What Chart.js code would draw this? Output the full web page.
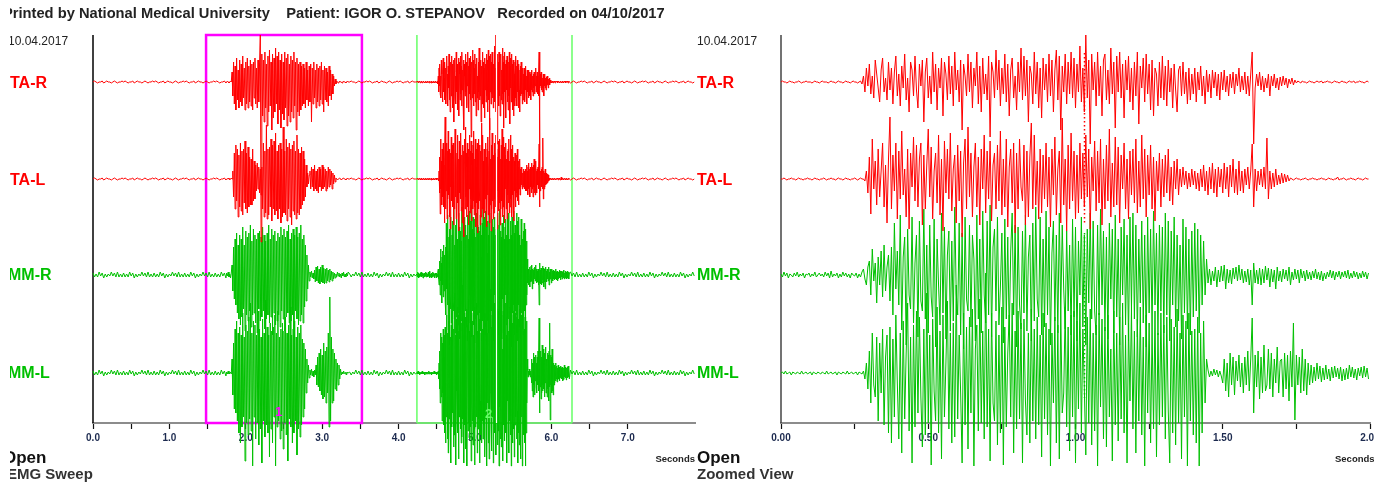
<!DOCTYPE html>
<html>
<head>
<meta charset="utf-8">
<script src="https://cdn.jsdelivr.net/npm/chart.js@4.4.0/dist/chart.umd.min.js"></script>
<style>
  body { margin: 0; background: #fff; width: 1389px; height: 484px; overflow: hidden; position: relative;
         font-family: "Liberation Sans", Arial, sans-serif; }
  .pane { position: absolute; top: 0; height: 484px; overflow: hidden; }
  #paneL { left: 10px; width: 687px; }
  #paneR { left: 697px; width: 677px; }
  .pane canvas { position: absolute; left: 0; top: 0; }
  .t { position: absolute; white-space: nowrap; line-height: 1; }
  .hdrbox { position: absolute; left: 0; top: 7px; width: 687px; height: 16px; overflow: hidden; }
  .hdr { font-weight: bold; font-size: 14.7px; color: #222; }
  .date { font-size: 12px; color: #222; }
  .ch { font-weight: bold; font-size: 16px; }
  .red { color: #ff0000; }
  .grn { color: #00c000; }
  .open { font-weight: bold; font-size: 17px; color: #111; }
  .name { font-weight: bold; font-size: 15px; color: #333; }
  .sec { font-weight: bold; font-size: 9.5px; color: #222; }
</style>
</head>
<body>
<div class="pane" id="paneL">
  <canvas id="sweepChart" width="687" height="484"></canvas>
  <div class="hdrbox"><div class="t hdr" style="left:-7px;top:-1px">Printed by National Medical University &nbsp;&nbsp; Patient: IGOR O. STEPANOV &nbsp;&nbsp;Recorded on 04/10/2017</div></div>
  <div class="t date" style="left:-2px;top:35px">10.04.2017</div>
  <div class="t ch red" style="left:0px;top:75px">TA-R</div>
  <div class="t ch red" style="left:0px;top:172px">TA-L</div>
  <div class="t ch grn" style="left:-2px;top:267px">MM-R</div>
  <div class="t ch grn" style="left:-2px;top:365px">MM-L</div>
  <div class="t" style="left:265px;top:405px;color:#ff00ff;font-weight:bold;font-size:13px">1</div>
  <div class="t" style="left:475px;top:407px;color:#66ff66;font-weight:bold;font-size:13px">2</div>
  <div class="t open" style="left:-7px;top:449px">Open</div>
  <div class="t name" style="left:-3px;top:466px">EMG Sweep</div>
  <div class="t sec" style="right:2px;top:454px">Seconds</div>
</div>
<div class="pane" id="paneR">
  <canvas id="zoomChart" width="677" height="484"></canvas>
  <div class="t date" style="left:0px;top:35px">10.04.2017</div>
  <div class="t ch red" style="left:0px;top:75px">TA-R</div>
  <div class="t ch red" style="left:0px;top:172px">TA-L</div>
  <div class="t ch grn" style="left:0px;top:267px">MM-R</div>
  <div class="t ch grn" style="left:0px;top:365px">MM-L</div>
  <div class="t open" style="left:0px;top:449px">Open</div>
  <div class="t name" style="left:0px;top:466px">Zoomed View</div>
  <div class="t sec" style="left:638px;top:454px">Seconds</div>
</div>
<script>
// channels, top to bottom
const channels = ['TA-R', 'TA-L', 'MM-R', 'MM-L'];
const channelColors = ['#ff0000', '#ff0000', '#00c000', '#00c000'];
const channelOffset = [291, 194, 98, 0];

// axes (seconds)
const sweepMax = 7.88;
const zoomMax = 2.0;

// analysis windows on the sweep (seconds)
const window1 = [1.48, 3.52];
const window2 = [4.24, 6.27];
const cursorTime = 5.27;

// resting noise (sampled every 20 ms)
const restTA = [0, 1, 0, -1, 0, 0, 1, -1, 0, 1, 0, 0, -1, 0, 1, 0, -1, 0, 0, 1];
const restMM = [2, -2, 1, -2, 3, -1, 2, -3, 1, -2, 1, -1, 3, -1, 2, -2, 3, -2, 1, -2];

// first burst, 1.75 s .. 3.34 s, 10 ms samples
const burst1 = {
  'TA-R': [0, 1, 0, -1, 0, 1, 0,
    10, -14, 20, -22, 16, -28, 24, -18, 12, -26, 22, -20, 18, -24, 26, -16, 14, -28, 20, -22,
    24, -26, 16, -20, 22, -24, 18, -28, 20, -16, 24, -22, 14, -26, 22, -20, 18,
    47, -160,
    28, -34, 22, -40, 30, -26, 18, -44, 26, -30, 32, -24, 20, -48, 28, -36, 24, -30, 34, -22,
    26, -42, 30, -28, 22, -46, 28, -32, 20, -38, 30, -26, 24, -44, 28, -34, 18, -40, 26, -30,
    22, -36, 30, -24, 20, -48, 24, -30, 18, -34, 20, -28, 16, -24,
    18, -22, 14, -26, 20, -18, 12, -24, 16, -20, 18, -40, 14, -22, 20, -16, 12, -26, 18, -20,
    14, -24, 16, -18, 20, -22, 12, -30, 16, -18, 14, -20, 10, -24, 16, -14, 12, -18, 8, -12, 6,
    -4, 3, -2, 1, 0, -1, 0, 1, 0, 0, -1, 0, 1, 0, 0, -1, 0, 1, 0],
  'TA-L': [0, 0, 1, 0, -1, 0, 1, 0,
    8, -18, 26, -30, 34, -22, 30, -38, 24, -28, 36, -32, 28, -36, 30, -24, 38, -30, 26, -34, 32, -28, 22, -26,
    20, -26, 30, -22, 18, -20,
    14, -12, 16, -10, 12, -14, 10, -16, 12,
    -30, 36, -38, 28, -34, 54, -40, 30, -36, 32, -28, 40, -42, 34, -30, 38, -36, 46, -32, 28,
    -40, 34, -30, 36, -44, 30, -38, 52, -34, 28, -36, 40, -42, 32, -30, 36, -38, 30, -46, 34,
    -32, 38, -36, 28, -40, 44, -34, 30, -36, 26, -30, 32, -26, 28, -22, 20, -18, 14,
    -8, 6, -5, 4,
    8, -10, 12, -8, 10, -12, 14, -10, 8, -12, 10, -14, 12, -8, 10, -12, 14, -10, 12, -8,
    10, -12, 8, -10, 12, -8, 10, -6, 8, -10, 6, -5, 4, -3,
    1, 0, -1, 0, 0, 1, 0, -1, 0, 0, 1, 0, 0, -1, 0, 1, 0],
  'MM-R': [2, -1, 3, -2, 1, -3, 2,
    10, -16, 28, -24, 36, -30, 42, -38, 30, -44, 40, -50, 36, -42, 48, -34, 30, -56, 44, -40,
    38, -46, 42, -36, 50, -52, 34, -40, 46, -38, 40, -48, 36, -58, 42, -34, 44, -46, 38, -42,
    48, -36, 40, -54, 34, -44, 42, -40, 50, -48, 36, -42, 46, -60, 40, -38, 44, -50, 34, -46,
    42, -40, 38, -52, 48, -36, 40, -44, 46, -56, 38, -42, 44, -38, 50, -48, 36, -46, 42, -40,
    46, -54, 40, -36, 48, -44, 38, -50, 42, -46, 50, -40, 36, -48, 40, -32, 30, -26, 20, -14, 10, -6,
    3, -2, 4, -3, 2, -4,
    5, -7, 8, -6, 9, -8, 6, -9, 8, -7, 10, -8, 7, -9, 6, -8, 7, -6, 5, -7, 6, -5, 4, -6, 3, -4,
    2, -3, 1, -2, 3, -1, 2, -2, 1, -3, 2, -1, 3, -2, 1, -2, 2, -1, 3],
  'MM-L': [1, -1, 2, -1, 0, 1, -1,
    14, -22, 30, -36, 44, -40, 52, -48, 40, -60, 46, -70, 38, -54, 60, -44, 36, -88, 48, -50,
    42, -62, 56, -46, 70, -58, 40, -93, 52, -44, 48, -66, 38, -50, 62, -72, 44, -56, 36, -90,
    54, -48, 40, -64, 73, -52, 46, -60, 38, -84, 50, -56, 42, -70, 46, -44, 58, -93, 40, -54,
    62, -48, 36, -66, 44, -58, 50, -76, 42, -50, 56, -62, 40, -88, 48, -46, 66, -54, 38, -70,
    44, -60, 52, -48, 36, -82, 46, -56, 40, -64, 48, -52, 34, -44, 30, -36, 24, -20, 14, -10, 8, -5,
    3, -2, 4, -3, 2, -4, 3, -2,
    8, -12, 16, -14, 20, -18, 24, -22, 18, -26, 30, -24, 22, -30, 26, -20, 40, -54, 76, -48,
    36, -30, 24, -28, 20, -16, 14, -18, 10, -12, 8, -6, 4,
    -2, 1, -1, 2, 0, -1, 1, -2, 1, 0]
};

// zoomed window, 0 .. 1.995 s (= sweep 4.24 s ..), 5 ms samples, one row per 100 ms
const zoomStep = 0.005;
const zoomed = {
  'TA-R': [
    0, 1, 0, 0, -1, 0, 1, 0, 0, -1, 0, 0, 1, 0, -1, 0, 0, 1, 0, 0,
    0, -1, 0, 1, 0, 0, -1, 0, 1, 0, 0, 0, -1, 0, 1, 0, 0, -1, 0, 1,
    0, 0, -1, 0, 1, 0, 0, -1, 0, 1, 0, 0, -1, 0, 1, -2, 6, -10, 14, -4,
    18, -12, 6, -16, 22, 8, -6, -20, 12, 24, -10, 4, -18, 20, -8, 14, -22, 10, 26, -14,
    8, -24, 16, -6, 28, -18, 4, -30, 20, 12, -14, 26, -8, -26, 18, -4, 22, -40, 10, 24,
    -16, 6, -22, 30, -10, 18, -28, 14, -6, 24, -34, 20, 8, -18, 26, -12, 16, -24, 30, -8,
    12, -20, 22, -48, 18, 6, -14, 28, -10, 20, -26, 14, -4, 30, -22, 16, -30, 24, -12, 8,
    -18, 26, -55, 20, 10, -16, 32, -8, 22, -24, 14, -12, 28, -20, 18, -34, 12, 24, -16, 6,
    -28, 20, -10, 34, -18, 26, -14, 22, -40, 16, 8, -22, 30, -12, 20, -26, 14, -36, 24, -8,
    18, -20, 28, -14, 22, -30, 12, 32, -18, 26, -48, 16, -10, 28, -22, 20, -12, 30, -16, 24,
    -26, 18, -10, 36, -20, 14, -30, 47, -16, 22, -62, 28, -8, 20, -24, 30, -14, 16, -34, 22,
    28, -18, 12, -22, 34, -12, 20, -46, 26, -10, 30, -16, 18, -36, 22, -8, 26, -20, 14, -28,
    20, -14, 30, -42, 16, -6, 24, -20, 28, -12, 18, -28, 22, -34, 14, 8, -24, 20, -16, 26,
    -18, 16, -24, 22, -10, 14, -26, 18, -8, -30, 12, 16, -14, 20, -12, 10, -22, 14, -18, 8,
    -12, 14, -20, 10, -8, 16, -14, 6, -22, 12, -10, 8, -16, 12, -6, 10, -14, 8, -18, 10,
    -8, 12, -10, 6, -14, 8, -6, 10, -12, 8, -4, 14, -10, 6, -8, 10, -12, 6, -14, 8,
    30, -62, -6, 8, -4, 10, -8, 6, -10, 4, -6, 8, -14, 6, -4, 8, -6, 4, -8, 5,
    -4, 6, -3, 4, -6, 3, -2, 4, -3, 2, -1, 1, 0, -1, 1, 0, 0, -1, 0, 1,
    0, 0, -1, 0, 1, 0, 0, 1, -1, 0, 0, 1, 0, 0, -1, 0, 1, 0, 0, -1,
    0, 1, 0, 0, -1, 0, 1, 0, 0, 1, -1, 0, 0, 1, 0, 0, -1, 0, 1, 0],
  'TA-L': [
    0, 0, 1, 0, -1, 0, 0, 1, 0, 0, -1, 0, 1, 0, 0, -1, 0, 0, 1, 0,
    0, -1, 0, 1, 0, 0, -1, 0, 0, 1, 0, -1, 0, 0, 1, 0, 0, -1, 0, 1,
    0, 0, -1, 0, 1, 0, 0, -1, 0, 0, 1, 0, -1, 0, 1, 0, 0, -2, 8, -14,
    22, -35, 40, -10, 18, -26, 30, -18, 8, 36, -28, 14, -44, 20, 62, -30, 24, -12, 36, -40,
    28, -20, 48, -16, 10, -38, 30, -50, 26, -8, 42, -22, 34, -28, 20, 36, -46, 24, -30, 14,
    50, -18, 32, -40, 8, 26, -24, 44, -36, 20, -52, 38, -14, 30, -20, 46, -32, 10, 24, -44,
    34, -22, 28, -58, 16, 40, -30, 52, -18, 26, -38, 12, 36, -28, 22, -46, 30, -10, 44, -34,
    28, -20, 38, -42, 14, 26, -30, 34, -22, 48, -36, 20, -28, 40, -48, 12, 30, -24, 36, -54,
    26, -30, 40, -8, -22, 34, -46, 28, -38, 22, 56, -30, 44, -26, 18, -40, 30, -34, 24, -20,
    36, -28, 22, -48, 30, -16, 42, -36, 10, 28, -44, 61, -26, 20, -52, 34, -30, 46, -22, 28,
    -40, 24, -34, 36, -20, 26, -28, 44, -18, 30, -50, 22, -12, 38, -32, 28, -24, 40, -46, 20,
    -30, 34, -22, 50, -38, 16, -28, 42, -26, 32, -44, 24, -10, 36, -30, 20, -40, 28, -16, 30,
    -24, 40, -34, 18, -28, 44, -20, 30, -38, 24, -16, 34, -30, 22, -42, 18, -12, 26, -28, 20,
    -18, 24, -14, 30, -22, 12, -26, 18, -10, 20, -16, 10, -8, 12, -6, 8, -10, 6, -8, 10,
    -6, 8, -10, 6, -12, 10, -8, 14, -12, 8, -16, 12, -10, 16, -14, 10, -18, 12, -8, 10,
    -14, 16, -10, 12, -18, 14, -8, 20, -14, 10, -16, 18, -12, 8, -14, 10, -6, 12, -10, 8,
    35, -28, 10, -12, 8, -6, 10, -8, 12, -10, 41, -20, 8, -10, 6, -8, 10, -6, 4, -5,
    6, -4, 5, -3, 4, -2, 1, 0, -1, 0, 1, 0, 0, -1, 0, 0, 1, 0, -1, 0,
    0, 1, 0, 0, -1, 0, 0, 1, 0, 0, -1, 0, 1, 0, 0, -1, 0, 0, 2, -1,
    0, 0, 1, 0, -1, 0, 0, 1, 0, 0, -1, 0, 1, 0, 0, -1, 0, 1, 0, 0],
  'MM-R': [
    1, -2, 3, -1, 2, -3, 1, 0, -2, 2, -1, 3, -2, 1, -1, 2, -3, 1, 0, 2,
    -2, 1, -1, 3, -2, 0, 2, -1, 1, -2, 3, -1, 2, -3, 4, -2, 1, -1, 2, -3,
    1, -2, 3, -1, 2, -2, 1, -3, 2, 0, -1, 2, -3, 1, -2, 3, 6, -4, -10, 8,
    14, -20, 26, -6, 12, -28, 18, -10, 24, -22, 30, -16, 8, 20, -26, 28, -40, 52, -14, 24,
    -30, 60, -55, 18, 38, -70, 46, -20, -34, 58, -48, 12, 40, -62, 54, -26, -36, 66, -44, 30,
    -58, 50, -22, -42, 56, -72, 36, -10, -50, 62, -38, 48, -64, 20, 44, -56, 34, -46, 68, -18,
    -40, 52, -60, 42, -74, 58, -24, -36, 50, -52, 40, 16, -66, 60, -44, 36, -58, 64, -20, -48,
    54, -40, 70, -62, 28, 46, -36, 58, -50, -12, 42, -68, 56, -44, 38, -60, 24, 62, -40, 50,
    -72, 48, -30, -54, 44, -38, 60, -56, 18, 40, -66, 52, -46, 68, -24, -42, 58, -60, 36, -52,
    64, -40, 48, -70, 22, 54, -46, 40, -58, 62, -38, 50, -14, -54, 44, -36, 30, -60, 56, -42,
    48, -66, 34, -20, 58, -52, 40, -70, 46, -28, 62, -44, 54, -36, -60, 50, -40, 66, -30, 44,
    -56, 38, -64, 52, -24, 46, -58, 60, -42, 36, -70, 48, -20, 56, -50, 40, -66, 58, -34, 62,
    -44, 50, -62, 36, -28, 54, -48, 40, -72, 58, -38, 46, -54, 64, -30, 42, -60, 50, -36, 48,
    -58, 62, -40, 54, -66, 44, -30, 58, -52, 40, -46, 30, -64, 56, -38, 48, -54, 36, -60, 44,
    -42, 52, -36, 46, -58, 40, -30, 34, -20, 16, -8, 6, -10, 4, -6, 8, -12, 5, -7, 9,
    -6, 10, -14, 6, -8, 5, -9, 7, -4, 8, -6, 10, -5, 6, -8, 4, -7, 6, -10, 5,
    -30, 12, -8, 5, -9, 7, -10, 6, -8, 9, -5, 7, -12, 6, -7, 5, -14, 8, -6, 4,
    -7, 6, -4, 5, -6, 8, -10, 3, -5, 6, -4, 5, -8, 6, -3, 4, -6, 5, -4, 3,
    -5, 4, -3, 6, -4, 3, -5, 4, -6, 2, -4, 3, -2, 5, -3, 4, -5, 3, -2, 4,
    -4, 3, -2, 4, -3, 5, -4, 2, -3, 4, -2, 3, -4, 2, -3, 4, -2, 3, -4, 2],
  'MM-L': [
    0, 1, -1, 2, -1, 0, 1, -2, 1, 0, -1, 1, 0, -1, 2, -1, 0, 1, -1, 0,
    1, -2, 1, 0, -1, 1, 0, -1, 1, 0, -1, 2, -1, 0, 1, -1, 0, 1, -2, 1,
    0, -1, 1, 0, -1, 2, -1, 0, 1, -1, 0, 1, -2, 1, 0, -1, 2, -6, 10, -16,
    22, -30, 40, -12, -24, 36, -48, 30, -20, 44, -52, 16, 38, -60, 46, -70, 34, -44, 58, -10,
    -66, 40, -80, 52, -46, 20, 70, -58, 36, -90, 48, -54, 62, -40, 56, -24, -74, 44, -62, 80,
    -50, 38, -92, 54, -18, -48, 66, -60, 42, -86, 58, -44, 10, 72, -56, 40, -70, 50, -64, 88,
    -46, 38, -20, -90, 60, -52, 46, -76, 56, -40, 64, -93, 24, 48, -58, 74, -50, 42, -66, 100,
    -54, 44, -88, 60, -30, -48, 52, -72, 38, -60, 66, -92, 46, -54, 20, 58, -44, 70, -80, 42,
    -56, 62, -46, 50, -90, 54, -28, -62, 40, -70, 64, -48, 44, -66, 56, -52, 38, -84, 60, -46,
    50, -62, 44, -93, 40, -30, 56, -70, 48, -86, 60, -40, -20, 66, -54, 46, -78, 58, -44, 62,
    -90, 52, -36, 70, -60, 44, -16, -82, 56, -50, 64, -72, 40, -58, 48, -93, 60, -34, 54, -66,
    46, -74, 58, -44, 24, -88, 62, -52, 40, -68, 56, -46, 70, -60, 38, -90, 50, -28, 64, -56,
    42, -80, 54, -48, 66, -62, 36, -93, 58, -40, 50, -70, 44, -56, 62, -84, 40, -52, 60, -44,
    48, -66, 56, -38, -90, 54, -60, 46, -72, 64, -50, 40, -86, 58, -44, 52, -93, 60, -48, 42,
    -62, 44, -70, 56, -93, 40, -60, 52, -30, 14, 3, -4, 2, -3, 4, -2, 3, -4, 2, -3,
    -10, 14, -18, 10, -24, 20, -12, 16, -22, 12, -8, 18, -14, 10, -20, 16, -12, 22, -18, 14,
    55, -40, 18, -14, 22, -26, 16, -20, 28, -18, -12, 24, -16, 20, -24, 14, -10, 26, -20, 12,
    14, -24, 20, -16, 18, -28, 22, -14, 50, -47, 18, -12, 16, -20, 24, -18, 14, -22, 10, -12,
    8, -10, 6, -8, 10, -6, 7, -9, 5, -7, 8, -6, 4, -8, 6, -5, 7, -4, 5, -6,
    6, -8, 4, -7, 5, -6, 8, -4, 6, -5, 4, -7, 5, -3, 6, -5, 7, -4, 5, -6]
};

function restFor(ch) { return ch.startsWith('TA') ? restTA : restMM; }

function sweepPoints(ch, k) {
  const rest = restFor(ch), off = channelOffset[k], pts = [];
  let n = 0;
  for (let t = 0; t < 1.745; t += 0.02) pts.push({ x: t, y: off + rest[n++ % rest.length] });
  burst1[ch].forEach((v, j) => pts.push({ x: 1.75 + j * 0.01, y: off + v }));
  for (let t = 3.36; t < 4.235; t += 0.02) pts.push({ x: t, y: off + rest[n++ % rest.length] });
  zoomed[ch].forEach((v, i) => pts.push({ x: window2[0] + i * zoomStep, y: off + v }));
  for (let t = 6.25; t <= sweepMax; t += 0.02) pts.push({ x: t, y: off + rest[n++ % rest.length] });
  return pts;
}

function zoomPoints(ch, k) {
  return zoomed[ch].map((v, i) => ({ x: i * zoomStep, y: channelOffset[k] + v }));
}

function xAxis(max, step, labelStep, digits) {
  const near = (v, s) => Math.abs(v / s - Math.round(v / s)) < 1e-6;
  return {
    type: 'linear', min: 0, max: max,
    border: { color: '#8c8c8c', width: 2 },
    grid: { drawOnChartArea: false, tickColor: '#111', tickLength: 6, tickWidth: 1.2 },
    ticks: {
      stepSize: step, autoSkip: false, maxRotation: 0, padding: 3, color: '#1c2a4f',
      font: { family: 'Liberation Sans, Arial, sans-serif', size: 10, weight: 'bold' },
      callback: v => (near(v, labelStep) ? v.toFixed(digits) : '')
    },
    afterBuildTicks: s => { s.ticks = s.ticks.filter(t => near(t.value, step)); },
    afterFit: s => { s.height = 61; s.paddingLeft = 0; s.paddingRight = 0; }
  };
}

function baseOptions(xScale, padL, padR) {
  return {
    responsive: false, animation: false, events: [],
    layout: { padding: { left: padL, right: padR, top: 35, bottom: 0 } },
    plugins: { legend: { display: false }, tooltip: { enabled: false } },
    elements: { point: { radius: 0 }, line: { borderWidth: 1, tension: 0 } },
    scales: {
      x: xScale,
      y: { display: false, min: -50, max: 338 }
    }
  };
}

function datasets(pointsFn) {
  return channels.map((ch, k) => ({
    label: ch, data: pointsFn(ch, k), borderColor: channelColors[k],
    borderWidth: 1, clip: false, parsing: false, fill: false
  }));
}

function vline(ctx, x, y0, y1) { ctx.beginPath(); ctx.moveTo(x, y0); ctx.lineTo(x, y1); ctx.stroke(); }

const sweepOverlay = {
  id: 'sweepOverlay',
  beforeDatasetsDraw(chart) {
    const { ctx, chartArea: a, scales: { x } } = chart;
    ctx.save();
    ctx.strokeStyle = '#000'; ctx.lineWidth = 1.5;
    vline(ctx, a.left, a.top, a.bottom);
    // window 1 (magenta box)
    const m0 = x.getPixelForValue(window1[0]), m1 = x.getPixelForValue(window1[1]);
    ctx.strokeStyle = '#ff00ff'; ctx.lineWidth = 2.5;
    ctx.strokeRect(m0, a.top, m1 - m0, a.bottom - a.top);
    // window 2 (green markers)
    const g0 = x.getPixelForValue(window2[0]), g1 = x.getPixelForValue(window2[1]);
    ctx.strokeStyle = '#66ff66'; ctx.lineWidth = 1.5;
    vline(ctx, g0, a.top, a.bottom);
    vline(ctx, g1, a.top, a.bottom);
    ctx.beginPath(); ctx.moveTo(g0, a.bottom); ctx.lineTo(g1, a.bottom); ctx.stroke();
    ctx.restore();
  },
  afterDatasetsDraw(chart) {
    const { ctx, chartArea: a, scales: { x } } = chart;
    ctx.save();
    ctx.strokeStyle = '#ffffff'; ctx.lineWidth = 1.2;
    vline(ctx, Math.round(x.getPixelForValue(cursorTime)) + 0.5, a.top, a.bottom);
    ctx.restore();
  }
};

const zoomOverlay = {
  id: 'zoomOverlay',
  beforeDatasetsDraw(chart) {
    const { ctx, chartArea: a } = chart;
    ctx.save();
    ctx.strokeStyle = '#444'; ctx.lineWidth = 1.5;
    vline(ctx, a.left, a.top, a.bottom);
    ctx.restore();
  },
  afterDatasetsDraw(chart) {
    const { ctx, scales: { x, y } } = chart;
    const cx = Math.round(x.getPixelForValue(cursorTime - window2[0])) + 0.5;
    ctx.save();
    ctx.setLineDash([1.5, 2.5]); ctx.lineWidth = 1.5;
    ctx.strokeStyle = '#ff0000';
    vline(ctx, cx, y.getPixelForValue(320), y.getPixelForValue(150));
    ctx.strokeStyle = '#00c000';
    vline(ctx, cx, y.getPixelForValue(140), y.getPixelForValue(-25));
    ctx.restore();
  }
};

new Chart(document.getElementById('sweepChart'), {
  type: 'line',
  data: { datasets: datasets(sweepPoints) },
  options: baseOptions(xAxis(sweepMax, 0.5, 1, 1), 83, 2),
  plugins: [sweepOverlay]
});

new Chart(document.getElementById('zoomChart'), {
  type: 'line',
  data: { datasets: datasets(zoomPoints) },
  options: baseOptions(xAxis(zoomMax, 0.25, 0.5, 2), 84, 4),
  plugins: [zoomOverlay]
});
</script>
</body>
</html>
